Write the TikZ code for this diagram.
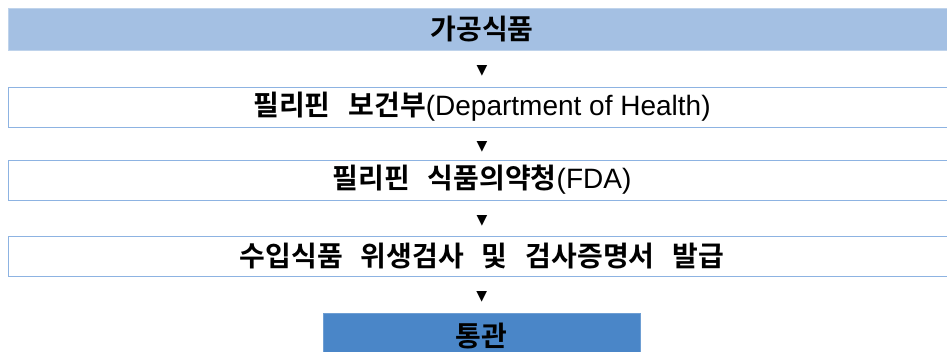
\documentclass[tikz,border=0pt]{standalone}
\usepackage{fontspec}
\setmainfont{Liberation Sans}
\newfontfamily\kor{Noto Sans CJK KR}[UprightFont={* Bold}]
\newfontfamily\symfont{DejaVu Sans}
\usetikzlibrary{positioning}

\definecolor{headblue}{HTML}{A4C0E3}
\definecolor{lineblue}{HTML}{8DB3E2}
\definecolor{endblue}{HTML}{4A86C8}

% Wide gap between words, as in the stages.
\newcommand{\wgap}{\hspace{18pt}}
% Latin part of a stage.
\newcommand{\engtext}[1]{{\rmfamily\fontsize{28}{30}\selectfont #1}}

\begin{document}
\begin{tikzpicture}[%
        x = 1pt,
        y = -1pt,
        every node/.style = {font = \kor\fontsize{28}{30}\selectfont},
        stagebox/.style = {%
            draw = lineblue,
            line width = 1pt,
            fill = white,
            minimum width = 948pt,
            minimum height = 40pt,
            inner sep = 0pt
        },
        headbox/.style = {stagebox, fill = headblue, draw = headblue!70!white, minimum height = 42pt},
        endbox/.style = {stagebox, fill = endblue, draw = endblue!80!white, minimum width = 317pt, minimum height = 46pt},
        tri/.style = {font = \symfont\fontsize{14}{14}\selectfont, inner sep = 0pt}
    ]

        % Frame of the picture.
        \useasboundingbox (0, 0) rectangle (947, 351);

        % Stages:
        \node[headbox]  (food)   at (482, 29.0)  {가공식품};
        \node[stagebox] (doh)    at (482, 107.0) {필리핀\wgap 보건부\engtext{(Department of Health)}};
        \node[stagebox] (fda)    at (482, 180.0) {필리핀\wgap 식품의약청\engtext{(FDA)}};
        \node[stagebox] (check)  at (482, 256.5) {수입식품\wgap 위생검사\wgap 및\wgap 검사증명서\wgap 발급};
        \node[endbox]   (pass)   at (481.5, 336) {통관};

        % Markers between the stages.
        \path (food)  -- node[tri, yshift = -2pt] {▼} (doh);
        \path (doh)   -- node[tri, yshift = -3pt] {▼} (fda);
        \path (fda)   -- node[tri, yshift = -3pt] {▼} (check);
        \path (check) -- node[tri, yshift = -2pt] {▼} (pass);
    \end{tikzpicture}
\end{document}
